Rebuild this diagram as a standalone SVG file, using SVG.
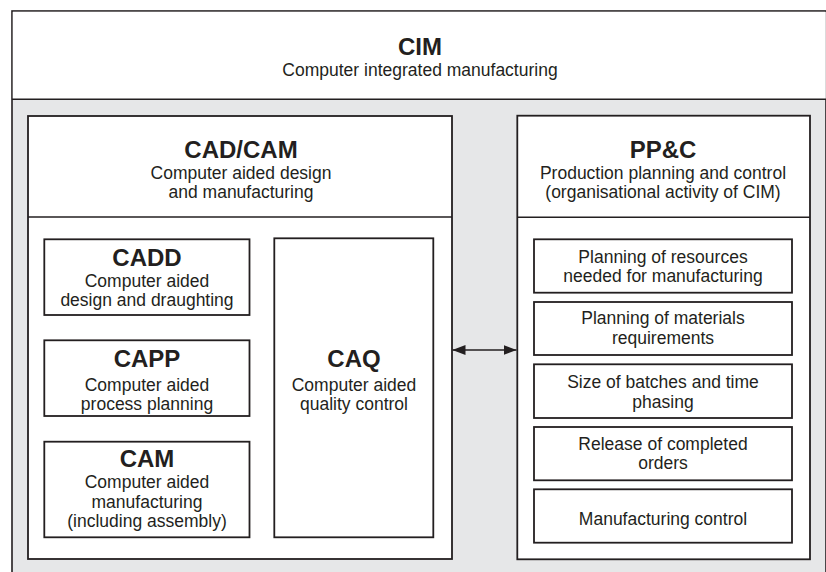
<svg xmlns="http://www.w3.org/2000/svg" width="826" height="572" viewBox="0 0 826 572">
<style>
.frame{fill:#e6e7e8;stroke:#231f20;stroke-width:1.6}
.box{fill:#ffffff;stroke:#231f20;stroke-width:1.8}
.sep{stroke:#231f20;stroke-width:1.6;fill:none}
text{font-family:"Liberation Sans",Arial,Helvetica,sans-serif;fill:#231f20;text-anchor:middle}
.t{font-size:24px;font-weight:bold}
.s{font-size:17.5px}
.conn{stroke:#231f20;stroke-width:1.5;fill:none}
</style>
<defs>
<marker id="ah" viewBox="0 0 13 10" refX="13" refY="5" markerWidth="13" markerHeight="10" markerUnits="userSpaceOnUse" orient="auto-start-reverse">
<path d="M0,0 L13,5 L0,10 Z" fill="#231f20"/>
</marker>
</defs>
<g id="cim">
<rect class="frame" x="12" y="11" width="814" height="590"/>
<rect x="12.8" y="11.8" width="813" height="87.5" fill="#ffffff"/>
<line class="sep" x1="12" y1="99.3" x2="826" y2="99.3"/>
<text class="t" x="420" y="55">CIM</text>
<text class="s" x="420" y="76">Computer integrated manufacturing</text>
</g>
<g id="cadcam">
<rect class="box" x="28" y="116" width="424" height="443"/>
<line class="sep" x1="28" y1="217" x2="452" y2="217"/>
<text class="t" x="241" y="157.5">CAD/CAM</text>
<text class="s" x="241" y="178.5">Computer aided design</text>
<text class="s" x="241" y="198.1">and manufacturing</text>
</g>
<g id="cadd">
<rect class="box" x="44.3" y="239.3" width="205.2" height="75.7"/>
<text class="t" x="147" y="265.5">CADD</text>
<text class="s" x="147" y="286.5">Computer aided</text>
<text class="s" x="147" y="306.1">design and draughting</text>
</g>
<g id="capp">
<rect class="box" x="44.3" y="340.3" width="205.2" height="75.7"/>
<text class="t" x="147" y="367">CAPP</text>
<text class="s" x="147" y="390.5">Computer aided</text>
<text class="s" x="147" y="410.1">process planning</text>
</g>
<g id="cam">
<rect class="box" x="44.3" y="441.7" width="205.2" height="95.6"/>
<text class="t" x="147" y="467">CAM</text>
<text class="s" x="147" y="488">Computer aided</text>
<text class="s" x="147" y="507.6">manufacturing</text>
<text class="s" x="147" y="527.2">(including assembly)</text>
</g>
<g id="caq">
<rect class="box" x="274.3" y="238.3" width="159" height="299"/>
<text class="t" x="354" y="367">CAQ</text>
<text class="s" x="354" y="390.5">Computer aided</text>
<text class="s" x="354" y="410.1">quality control</text>
</g>
<g id="ppc">
<rect class="box" x="517.3" y="115.7" width="292.7" height="443.6"/>
<line class="sep" x1="517.3" y1="217.3" x2="810" y2="217.3"/>
<text class="t" x="663" y="157.8">PP&amp;C</text>
<text class="s" x="663" y="178.8">Production planning and control</text>
<text class="s" x="663" y="198.4">(organisational activity of CIM)</text>
</g>
<g id="ppc-resources">
<rect class="box" x="534" y="239.3" width="258" height="53.4"/>
<text class="s" x="663" y="262.7">Planning of resources</text>
<text class="s" x="663" y="282.3">needed for manufacturing</text>
</g>
<g id="ppc-materials">
<rect class="box" x="534" y="302" width="258" height="53"/>
<text class="s" x="663" y="324.4">Planning of materials</text>
<text class="s" x="663" y="344">requirements</text>
</g>
<g id="ppc-batches">
<rect class="box" x="534" y="364.3" width="258" height="53.7"/>
<text class="s" x="663" y="388.1">Size of batches and time</text>
<text class="s" x="663" y="407.7">phasing</text>
</g>
<g id="ppc-release">
<rect class="box" x="534" y="427" width="258" height="53.3"/>
<text class="s" x="663" y="449.7">Release of completed</text>
<text class="s" x="663" y="469.3">orders</text>
</g>
<g id="ppc-control">
<rect class="box" x="534" y="489.3" width="258" height="53.4"/>
<text class="s" x="663" y="524.5">Manufacturing control</text>
</g>
<g id="connectors">
<line class="conn" x1="452.5" y1="350" x2="516.5" y2="350" marker-start="url(#ah)" marker-end="url(#ah)"/>
</g>
</svg>
